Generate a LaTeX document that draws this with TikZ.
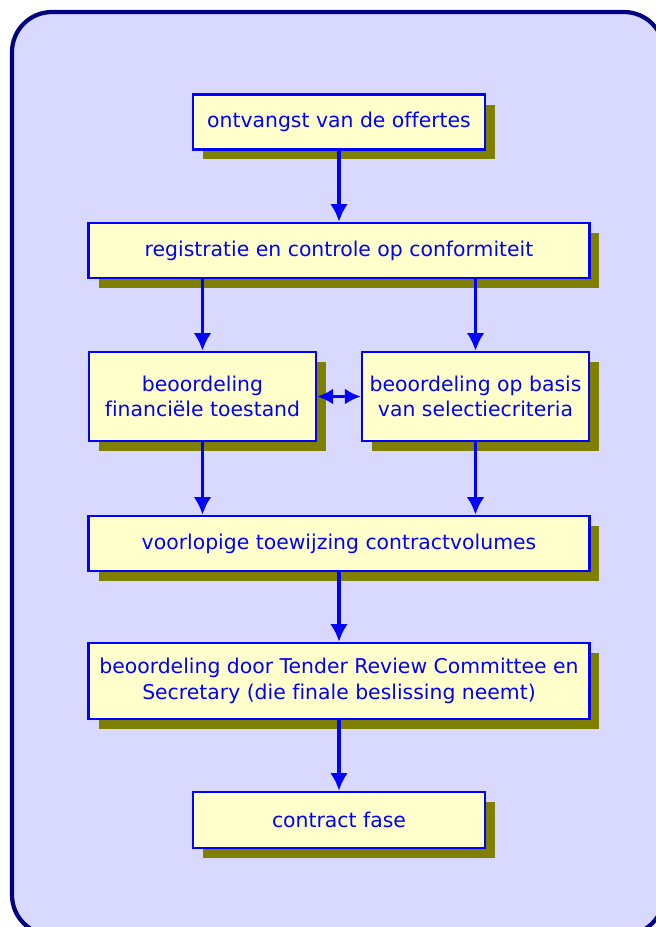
\documentclass[tikz,border=0pt]{standalone}
\usepackage{fontspec}
\setmainfont{DejaVu Sans}[Ligatures=NoCommon]
\usetikzlibrary{arrows.meta,shadows}

\definecolor{panelbg}{RGB}{217,217,255}
\definecolor{panelline}{RGB}{0,0,128}
\definecolor{boxfill}{RGB}{255,255,204}
\definecolor{boxline}{RGB}{0,0,255}
\definecolor{boxshadow}{RGB}{128,128,0}

\tikzset{
  stage/.style={draw=boxline, fill=boxfill, line width=1.4pt, text=boxline,
    align=center, inner sep=0pt, font=\fontsize{11.6}{14.6}\selectfont,
    drop shadow={shadow xshift=0.2cm, shadow yshift=-0.2cm, fill=boxshadow, opacity=1}},
  flow/.style={draw=boxline, line width=2.2pt, -{Latex[length=10pt,width=10pt]}},
  both/.style={draw=boxline, line width=2.2pt, {Latex[length=9pt,width=9pt]}-{Latex[length=9pt,width=9pt]}}
}

\begin{document}
\begin{tikzpicture}[x=0.02cm, y=-0.02cm]
			\useasboundingbox (0,0) rectangle (656,927);
			\begin{scope}
			\clip (0,0) rectangle (656,927);
			\draw [fill=panelbg, draw=panelline, line width=2.4pt, rounded corners=0.8cm] (12,12) rectangle (664,935);
			\end{scope}

			\node [stage, minimum width=5.84cm, minimum height=1.1cm] (recv) at (339,122) {ontvangst van de offertes};
			\node [stage, minimum width=10.02cm, minimum height=1.1cm] (reg) at (339,250.5) {registratie en controle op conformiteit};
			\node [stage, minimum width=4.54cm, minimum height=1.78cm] (finan) at (202.5,396.5) {beoordeling\\financiële toestand};
			\node [stage, minimum width=4.54cm, minimum height=1.78cm] (select) at (475.5,396.5) {beoordeling op basis\\van selectiecriteria};
			\node [stage, minimum width=10.02cm, minimum height=1.1cm] (alloc) at (339,543.5) {voorlopige toewijzing contractvolumes};
			\node [stage, minimum width=10.02cm, minimum height=1.52cm] (review) at (339,681) {beoordeling door Tender Review Committee en\\Secretary (die finale beslissing neemt)};
			\node [stage, minimum width=5.84cm, minimum height=1.12cm] (fase) at (339,820) {contract fase};

			\draw [flow] (recv) to (reg);
			\draw [flow] (reg.south -| finan) to (finan);
			\draw [flow] (reg.south -| select) to (select);
			\draw [both] (finan) to (select);
			\draw [flow] (finan) to (alloc.north -| finan);
			\draw [flow] (select) to (alloc.north -| select);
			\draw [flow] (alloc) to (review);
			\draw [flow] (review) to (fase);
		\end{tikzpicture}
\end{document}
